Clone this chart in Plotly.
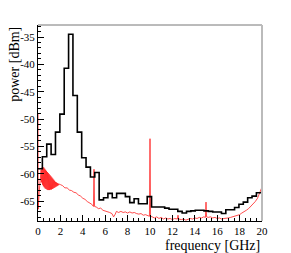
import plotly.graph_objects as go

# ---- data ----
bin_width = 0.39  # GHz
hist_power = [-59.1, -56.9, -54.6, -56.5, -52.4, -49.1, -40.7, -34.5, -45.7, -52.4,
              -57.1, -58.8, -60.6, -59.8, -64.8, -64.4, -63.6, -64.4, -63.6, -63.6,
              -64.2, -65.3, -64.6, -65.5, -65.5, -64.2, -66.1, -66.1, -66.1, -66.3,
              -66.5, -66.5, -66.9, -67.2, -66.9, -66.8, -66.7, -66.7, -66.8, -66.9,
              -67.0, -67.0, -67.3, -66.6, -66.6, -66.2, -65.6, -65.2, -64.4, -64.1,
              -63.5, -63.5]

spec_freq = [0.00, 0.02, 0.06, 0.10, 0.15, 0.20, 0.24,
             0.28, 0.32, 0.36, 0.40, 0.44, 0.48, 0.52, 0.56, 0.60, 0.64,
             0.68, 0.72, 0.76, 0.80, 0.84, 0.88, 0.92, 0.96, 1.00, 1.04,
             1.08, 1.12, 1.16, 1.20, 1.24, 1.28, 1.32, 1.36, 1.40, 1.44,
             1.48, 1.52, 1.56, 1.60, 1.64, 1.68, 1.72, 1.76, 1.80, 1.84,
             1.9, 2.0, 2.2, 2.4, 2.6, 2.8, 3.0, 3.2, 3.4, 3.6, 3.8, 4.0,
             4.2, 4.4, 4.6, 4.8, 4.95, 5.0, 5.05, 5.2, 5.4, 5.6, 5.8, 6.0, 6.2, 6.4,
             6.6, 6.75, 6.9, 7.0, 7.2, 7.4, 7.6, 7.8, 8.0, 8.2, 8.4, 8.6, 8.8, 9.0,
             9.2, 9.4, 9.6, 9.8, 9.95, 10.0, 10.05, 10.2, 10.4, 10.6, 10.8, 11.0,
             11.2, 11.4, 11.6, 11.8, 12.0, 12.2, 12.45, 12.5, 12.55, 12.8, 13.0,
             13.2, 13.4, 13.6, 13.8, 14.0, 14.2, 14.4, 14.6, 14.8, 14.95, 15.0,
             15.05, 15.2, 15.4, 15.6, 15.8, 16.0, 16.2, 16.4, 16.6, 16.8, 17.0,
             17.2, 17.4, 17.6, 17.8, 18.0, 18.2, 18.4, 18.6, 18.8, 19.0, 19.2,
             19.4, 19.6, 19.8, 19.95, 20.0]
spec_power = [-49.0, -66.5, -65.0, -63.5, -62.0, -61.0, -60.2,
              -59.3, -61.6, -58.9, -62.0, -58.8, -62.3, -58.9, -62.5, -59.1, -62.7,
              -59.3, -62.8, -59.5, -62.9, -59.7, -63.0, -59.9, -63.0, -60.1, -63.0,
              -60.3, -62.9, -60.5, -62.9, -60.7, -62.8, -60.9, -62.7, -61.1, -62.6,
              -61.3, -62.5, -61.5, -62.4, -61.6, -62.3, -61.7, -62.2, -61.8, -62.1,
              -61.9, -62.0, -62.2, -62.6, -62.6, -63.0, -63.1, -63.4,
              -63.5, -63.9, -64.1, -64.5, -64.7, -65.1, -65.4, -65.6, -66.0, -59.2,
              -66.0, -66.1, -66.4, -66.3, -66.7, -66.8, -66.9, -67.1, -67.3, -67.9,
              -67.4, -66.9, -67.1, -66.9, -67.1, -67.0, -67.2, -67.0, -67.2, -67.1,
              -67.3, -67.4, -67.3, -67.6, -67.5, -67.7, -67.8, -53.6, -67.8, -67.9,
              -68.1, -67.9, -68.2, -68.0, -68.3, -68.1, -68.3, -68.2, -68.4, -68.2,
              -68.3, -67.6, -68.3, -68.4, -68.3, -68.5, -68.3, -68.2, -68.3, -68.1,
              -68.2, -68.0, -68.1, -67.9, -68.0, -65.2, -67.9, -68.0, -67.9, -68.1,
              -68.0, -68.2, -68.1, -68.3, -68.2, -68.2, -68.1, -68.0, -67.9, -67.8,
              -67.6, -67.5, -67.2, -67.0, -66.7, -66.4, -66.0, -65.6, -65.1, -64.5,
              -63.6, -62.7, -75.0]

x_tick_vals = [0, 2, 4, 6, 8, 10, 12, 14, 16, 18, 20]
x_tick_text = ["0", "2", "4", "6", "8", "10", "12", "14", "16", "18", "20"]
y_tick_vals = [-65, -60, -55, -50, -45, -40, -35]
y_tick_text = ["-65", "-60", "-55", "-50", "-45", "-40", "-35"]

# ---- build ----
n = len(hist_power)
edges = [min(i * bin_width, 20.0) for i in range(n)] + [20.0]
hist_y = hist_power + [hist_power[-1]]

fig = go.Figure()
fig.add_trace(go.Scatter(x=spec_freq, y=spec_power, mode="lines",
                         line=dict(color="#ff2020", width=0.8), showlegend=False,
                         hoverinfo="skip"))
fig.add_trace(go.Scatter(x=edges, y=hist_y, mode="lines", line_shape="hv",
                         line=dict(color="black", width=1.6), showlegend=False,
                         hoverinfo="skip"))

font = "Liberation Serif"
axis_common = dict(showline=True, linecolor="black", linewidth=1, mirror=False,
                   showgrid=False, zeroline=False, ticks="inside", ticklen=6,
                   tickwidth=1, tickcolor="black",
                   tickfont=dict(family=font, size=11, color="black"))
fig.update_xaxes(range=[0, 20], tickvals=x_tick_vals, ticktext=x_tick_text,
                 minor=dict(ticks="inside", ticklen=3, dtick=0.5, tickcolor="black"),
                 **axis_common)
fig.update_yaxes(range=[-68.66, -32.8], tickvals=y_tick_vals, ticktext=y_tick_text,
                 minor=dict(ticks="inside", ticklen=3, dtick=1, tickcolor="black"),
                 **axis_common)

fig.add_shape(type="line", xref="paper", yref="paper", x0=0, x1=1, y0=1, y1=1,
              line=dict(color="#777777", width=1))
fig.add_shape(type="line", xref="paper", yref="paper", x0=1, x1=1, y0=0, y1=1,
              line=dict(color="#bbbbbb", width=2))

fig.add_annotation(text="power [dBm]", xref="paper", yref="paper",
                   x=-0.106, y=1.0, xanchor="center", yanchor="top", textangle=-90,
                   showarrow=False, font=dict(family=font, size=14, color="black"))
fig.add_annotation(text="frequency [GHz]", xref="paper", yref="paper",
                   x=1.0, y=-0.125, xanchor="right", yanchor="middle",
                   showarrow=False, font=dict(family=font, size=14, color="black"))

# page body adds an 8px offset; compensate in figure size and margins
fig.update_layout(width=283, height=245, margin=dict(l=27, r=29, t=17, b=32),
                  paper_bgcolor="white", plot_bgcolor="white")
fig.write_html("out.html")
